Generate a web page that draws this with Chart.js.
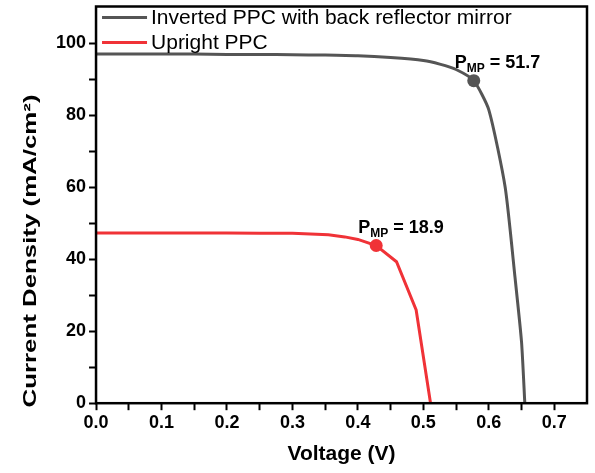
<!DOCTYPE html>
<html>
<head>
<meta charset="utf-8">
<script src="https://cdn.jsdelivr.net/npm/chart.js@4/dist/chart.umd.min.js"></script>
<style>
  html, body { margin: 0; padding: 0; background: #fff; }
  #wrap { width: 595px; height: 473px; }
</style>
</head>
<body>
<div id="wrap"><canvas id="charts"></canvas></div>
<script>
// Inverted PPC with back reflector mirror
const invV = [0, 0.05, 0.1, 0.15, 0.2, 0.25, 0.3, 0.35, 0.4, 0.45, 0.5, 0.525, 0.55, 0.577, 0.6, 0.625, 0.64, 0.65, 0.655]
const invJ = [97, 97, 97, 97, 96.9, 96.9, 96.8, 96.7, 96.5, 96.0, 95.2, 94.2, 92.7, 89.6, 81.5, 60, 35, 17, 0]

// Upright PPC
const upV = [0, 0.05, 0.1, 0.15, 0.2, 0.25, 0.3, 0.355, 0.38, 0.4, 0.428, 0.459, 0.489, 0.511]
const upJ = [47.3, 47.3, 47.3, 47.3, 47.3, 47.2, 47.2, 46.8, 46.2, 45.5, 43.8, 39.3, 25.9, 0]

// maximum power points
const mppV = [0.577, 0.428]
const mppJ = [89.6, 43.8]
const mppLabel = ['51.7', '18.9']

const labels = ['Inverted PPC with back reflector mirror', 'Upright PPC']
const colors = ['rgb(85, 85, 85)', 'rgb(240, 50, 55)']

const xTicks = [0, 0.05, 0.1, 0.15, 0.2, 0.25, 0.3, 0.35, 0.4, 0.45, 0.5, 0.55, 0.6, 0.65, 0.7]
const yTicks = [0, 10, 20, 30, 40, 50, 60, 70, 80, 90, 100]

const yTitle = 'Current Density (mA/cm²)'

const toXY = (xs, ys) => xs.map((x, i) => ({ x: x, y: ys[i] }))

// frame, legend, y title and P_MP labels
const extras = {
    id: 'extras',
    afterDraw(chart) {
        const c = chart.ctx
        const a = chart.chartArea
        const sx = chart.scales.x
        const sy = chart.scales.y
        c.save()
        c.strokeStyle = '#000'
        c.lineWidth = 2.5
        c.strokeRect(a.left, a.top, a.right - a.left, a.bottom - a.top)

        // legend inside plot
        c.font = '21px "Liberation Sans", Arial, sans-serif'
        c.textBaseline = 'middle'
        labels.forEach((lab, i) => {
            const y = a.top + 11 + i * 25
            c.strokeStyle = colors[i]
            c.lineWidth = 3
            c.beginPath()
            c.moveTo(a.left + 6, y)
            c.lineTo(a.left + 51, y)
            c.stroke()
            c.fillStyle = '#000'
            c.fillText(lab, a.left + 55, y + 1)
        })

        // y title, stretched along its length like the original
        c.save()
        c.translate(31, 251)
        c.rotate(-Math.PI / 2)
        c.font = 'bold 18px "Liberation Sans", Arial, sans-serif'
        const w = c.measureText(yTitle).width
        c.scale(313 / w, 1)
        c.textAlign = 'center'
        c.textBaseline = 'middle'
        c.fillStyle = '#000'
        c.fillText(yTitle, 0, 0)
        c.restore()

        // P_MP annotations
        const offs = [[-19, -13], [-18, -13]]
        mppV.forEach((v, i) => {
            let x = sx.getPixelForValue(v) + offs[i][0]
            const y = sy.getPixelForValue(mppJ[i]) + offs[i][1]
            c.fillStyle = '#000'
            c.textBaseline = 'alphabetic'
            c.font = 'bold 18px "Liberation Sans", Arial, sans-serif'
            c.fillText('P', x, y)
            x += c.measureText('P').width
            c.font = 'bold 12px "Liberation Sans", Arial, sans-serif'
            c.fillText('MP', x, y + 4)
            x += c.measureText('MP').width
            c.font = 'bold 18px "Liberation Sans", Arial, sans-serif'
            c.fillText(' = ' + mppLabel[i], x, y)
        })
        c.restore()
    }
}

const ctx = document.getElementById('charts').getContext('2d')

const chart = new Chart(ctx, {
    type: 'scatter',
    data: {
        datasets: [{
            label: labels[0],
            data: toXY(invV, invJ),
            showLine: true,
            borderColor: colors[0],
            borderWidth: 3,
            pointRadius: 0,
            tension: 0.2
        }, {
            label: labels[1],
            data: toXY(upV, upJ),
            showLine: true,
            borderColor: colors[1],
            borderWidth: 3,
            pointRadius: 0,
            tension: 0
        }, {
            label: 'mpp',
            data: toXY(mppV, mppJ),
            showLine: false,
            pointRadius: 6.5,
            pointBackgroundColor: colors,
            pointBorderWidth: 0
        }]
    },
    options: {
        responsive: true,
        maintainAspectRatio: false,
        animation: false,
        layout: { padding: { top: 6, right: 8, left: 53, bottom: 6 } },
        plugins: {
            legend: { display: false },
            tooltip: { enabled: false }
        },
        scales: {
            x: {
                type: 'linear',
                min: 0,
                max: 0.75,
                afterBuildTicks: (s) => { s.ticks = xTicks.map(v => ({ value: v })) },
                grid: { drawOnChartArea: false, tickLength: 7, tickWidth: 2, tickColor: '#000' },
                border: { display: false },
                ticks: {
                    color: '#000',
                    font: { family: '"Liberation Sans", Arial', size: 18, weight: 'bold' },
                    maxRotation: 0,
                    autoSkip: false,
                    padding: 2,
                    callback: (v) => (Math.round(v * 100) % 10 === 0) ? v.toFixed(1) : ''
                },
                title: {
                    display: true,
                    text: 'Voltage (V)',
                    color: '#000',
                    font: { family: '"Liberation Sans", Arial', size: 21, weight: 'bold' },
                    padding: { top: 6, bottom: 0 }
                }
            },
            y: {
                type: 'linear',
                min: 0,
                max: 110.2,
                afterBuildTicks: (s) => { s.ticks = yTicks.map(v => ({ value: v })) },
                afterFit: (s) => { s.paddingTop = 0; s.paddingBottom = 0 },
                grid: { drawOnChartArea: false, tickLength: 7, tickWidth: 2, tickColor: '#000' },
                border: { display: false },
                ticks: {
                    color: '#000',
                    font: { family: '"Liberation Sans", Arial', size: 18, weight: 'bold' },
                    autoSkip: false,
                    padding: 3,
                    callback: (v) => (v % 20 === 0) ? String(v) : ''
                },
                title: { display: false }
            }
        }
    },
    plugins: [extras]
})
</script>
</body>
</html>
